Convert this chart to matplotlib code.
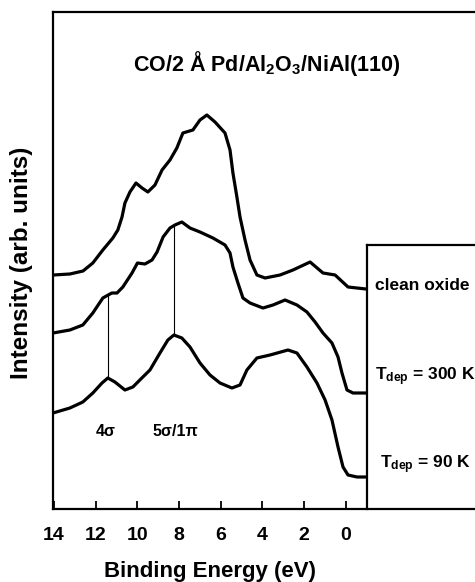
import matplotlib
matplotlib.use("Agg")
import matplotlib.pyplot as plt

plt.rcParams['font.family'] = ['Liberation Sans', 'DejaVu Sans']
plt.rcParams['font.weight'] = 'bold'
plt.rcParams['mathtext.fontset'] = 'custom'
plt.rcParams['mathtext.rm'] = 'Liberation Sans:bold'
plt.rcParams['mathtext.it'] = 'Liberation Sans:bold'
plt.rcParams['mathtext.bf'] = 'Liberation Sans:bold'

# UPS spectra, binding energy (eV) vs intensity (arb. units)
be_clean = [14.03, 13.23, 12.60, 12.13, 11.65, 11.17, 10.93, 10.73, 10.59, 10.35,
            10.06, 9.77, 9.49, 9.15, 8.81, 8.43, 8.10, 7.81, 7.33, 6.99, 6.66,
            6.27, 5.79, 5.55, 5.41, 5.22, 5.07, 4.83, 4.59, 4.26, 3.87, 3.15,
            2.53, 1.71, 1.09, 0.51, -0.11, -0.97]
int_clean = [2.34, 2.35, 2.38, 2.46, 2.59, 2.71, 2.79, 2.92, 3.06, 3.17,
             3.26, 3.21, 3.17, 3.24, 3.39, 3.49, 3.61, 3.76, 3.79, 3.89, 3.94,
             3.87, 3.76, 3.59, 3.36, 3.12, 2.92, 2.69, 2.49, 2.34, 2.31, 2.34,
             2.39, 2.47, 2.36, 2.34, 2.22, 2.20]

be_300 = [14.04, 13.23, 12.61, 12.13, 11.65, 11.22, 10.97, 10.69, 10.25, 9.99,
          9.63, 9.29, 9.05, 8.76, 8.43, 8.19, 7.86, 7.47, 6.99, 6.37, 5.79,
          5.55, 5.41, 5.17, 4.93, 4.59, 3.97, 3.49, 2.91, 2.34, 1.86, 1.47,
          1.09, 0.66, 0.37, 0.18, -0.06, -0.35, -0.97]
int_300 = [1.76, 1.79, 1.84, 1.96, 2.11, 2.16, 2.16, 2.22, 2.36, 2.46,
           2.45, 2.49, 2.57, 2.72, 2.81, 2.84, 2.87, 2.81, 2.77, 2.71, 2.64,
           2.56, 2.42, 2.26, 2.11, 2.06, 2.01, 2.04, 2.09, 2.04, 1.97, 1.87,
           1.76, 1.66, 1.52, 1.36, 1.19, 1.16, 1.16]

be_90 = [14.04, 13.23, 12.61, 12.13, 11.69, 11.41, 11.07, 10.59, 10.21, 9.73,
         9.39, 8.91, 8.53, 8.24, 7.86, 7.47, 6.99, 6.51, 6.03, 5.46, 5.07,
         4.74, 4.26, 3.63, 2.77, 2.34, 1.86, 1.38, 0.99, 0.66, 0.37, 0.13,
         -0.11, -0.54, -0.97]
int_90 = [0.96, 1.01, 1.07, 1.16, 1.26, 1.31, 1.27, 1.19, 1.22, 1.32,
          1.39, 1.56, 1.69, 1.74, 1.71, 1.62, 1.46, 1.34, 1.26, 1.21, 1.24,
          1.39, 1.51, 1.54, 1.59, 1.56, 1.42, 1.26, 1.09, 0.89, 0.62, 0.42,
          0.34, 0.32, 0.32]

spectra = [(be_clean, int_clean), (be_300, int_300), (be_90, int_90)]
spectrum_labels = ['clean oxide', r'T$_{\rm dep}$ = 300 K', r'T$_{\rm dep}$ = 90 K']
label_heights = [2.24, 1.32, 0.44]
label_x = [-1.4, -1.4, -1.62]

# peak positions marked by thin vertical lines: (energy, bottom, top)
peak_lines = [(11.41, 1.31, 2.14), (8.24, 1.74, 2.83)]
peak_names = ['4σ', '5σ/1π']
peak_name_x = [11.5, 8.15]

xticks = [14, 12, 10, 8, 6, 4, 2, 0]
xtick_labels = ['14', '12', '10', '8', '6', '4', '2', '0']

fig = plt.figure(figsize=(4.75, 5.82), dpi=100)
ax = fig.add_axes([53 / 475, 73 / 582, 422 / 475, 497 / 582])

for be, inten in spectra:
    ax.plot(be, inten, color='black', lw=2.3, solid_joinstyle='round',
            solid_capstyle='round')

for e, lo, hi in peak_lines:
    ax.plot([e, e], [lo, hi], color='black', lw=0.8)

for name, x in zip(peak_names, peak_name_x):
    ax.text(x, 0.77, name, fontsize=11.5, fontweight='bold', ha='center', va='center')

# label box on the right of the spectra
ax.plot([-1.0, -1.0], [0, 2.64], color='black', lw=1.6, clip_on=False)
ax.plot([-1.0, -6.3], [2.64, 2.64], color='black', lw=1.6, clip_on=False)
for text, x, h in zip(spectrum_labels, label_x, label_heights):
    ax.text(x, h, text, fontsize=12.5, fontweight='bold', ha='left', va='center')

ax.text(3.8, 4.46, r'CO/2 Å Pd/Al$_2$O$_3$/NiAl(110)', fontsize=15.5,
        fontweight='bold', ha='center', va='center')

ax.set_xlim(14.04, -6.2)
ax.set_ylim(0, 4.97)
ax.set_xticks(xticks)
ax.set_xticklabels(xtick_labels)
ax.set_yticks([])
ax.tick_params(axis='x', direction='in', length=6, width=1.3, pad=13, labelsize=14)
for lab in ax.get_xticklabels():
    lab.set_fontweight('bold')

ax.spines['right'].set_visible(False)
for side in ['left', 'top', 'bottom']:
    ax.spines[side].set_linewidth(1.6)

ax.set_xlabel('Binding Energy (eV)', fontsize=16, fontweight='bold')
ax.xaxis.set_label_coords(0.372, -0.104)
ax.set_ylabel('Intensity (arb. units)', fontsize=17.5, fontweight='bold')
ax.yaxis.set_label_coords(-0.047, 0.495)

fig.savefig('out.png', dpi=100)
